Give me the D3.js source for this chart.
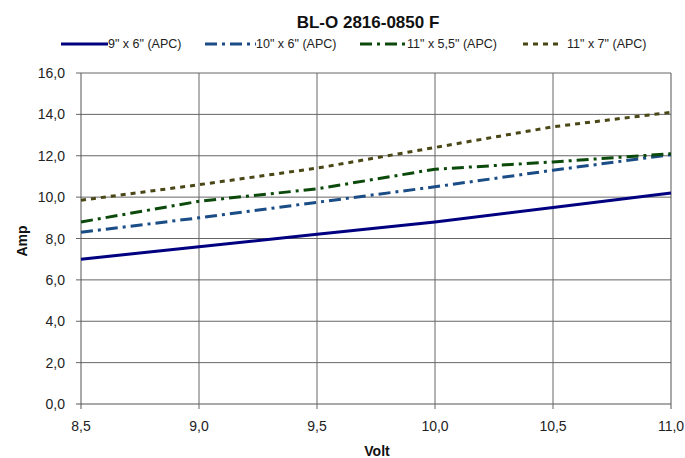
<!DOCTYPE html>
<html>
<head>
<meta charset="utf-8">
<script src="https://cdn.jsdelivr.net/npm/d3@7"></script>
<style>
  body { margin: 0; background: white; }
  text { font-family: "Liberation Sans", Arial, sans-serif; }
</style>
</head>
<body>
<div id="container"></div>
<script>
let w = 685;
let h = 458;

// data
let volts = [8.5, 9.0, 9.5, 10.0, 10.5, 11.0];
let seriesNames = ['9" x 6" (APC)', '10" x 6" (APC)', '11" x 5,5" (APC)', '11" x 7" (APC)'];
let amp9x6 = [7.0, 7.6, 8.2, 8.8, 9.5, 10.2];
let amp10x6 = [8.3, 9.0, 9.75, 10.5, 11.3, 12.05];
let amp11x55 = [8.8, 9.8, 10.4, 11.35, 11.7, 12.1];
let amp11x7 = [9.85, 10.6, 11.4, 12.4, 13.4, 14.1];
let xTicks = [8.5, 9.0, 9.5, 10.0, 10.5, 11.0];
let yTicks = [0, 2, 4, 6, 8, 10, 12, 14, 16];

let allSeries = [amp9x6, amp10x6, amp11x55, amp11x7];
let colors = ["#000080", "#1A4C86", "#0B4A0B", "#4A4716"];
let dashes = [null, "12,5,3,5", "12,5,3,5", "5,5"];
let legendX = [61, 205, 360, 523];
let legendLen = [47, 51, 47, 39];

let plotLeft = 81, plotRight = 671, plotTop = 73, plotBottom = 404;

let x = d3.scaleLinear().domain([8.5, 11.0]).range([plotLeft, plotRight]);
let y = d3.scaleLinear().domain([0, 16]).range([plotBottom, plotTop]);

let fmt = function(d){ return d3.format(".1f")(d).replace(".", ","); };

let viz = d3.select("#container")
  .append("svg")
    .attr("width", w)
    .attr("height", h)
    .style("background-color", "white")
;

// grid
viz.append("g")
  .selectAll("line")
  .data(yTicks)
  .enter()
  .append("line")
    .attr("x1", plotLeft - 5)
    .attr("x2", plotRight)
    .attr("y1", function(d){ return y(d); })
    .attr("y2", function(d){ return y(d); })
    .style("stroke", function(d){ return d == 0 ? "#555" : "#666"; })
    .style("stroke-width", 1)
;
viz.append("g")
  .selectAll("line")
  .data(xTicks)
  .enter()
  .append("line")
    .attr("x1", function(d){ return x(d); })
    .attr("x2", function(d){ return x(d); })
    .attr("y1", plotTop)
    .attr("y2", plotBottom + 5)
    .style("stroke", function(d, i){ return (i == 0 || i == xTicks.length - 1) ? "#555" : "#666"; })
    .style("stroke-width", 1)
;

// tick labels
viz.append("g")
  .selectAll("text")
  .data(yTicks)
  .enter()
  .append("text")
    .text(fmt)
    .attr("x", plotLeft - 16)
    .attr("y", function(d){ return y(d) + 5; })
    .attr("text-anchor", "end")
    .attr("font-size", 14)
    .attr("fill", "#222")
;
viz.append("g")
  .selectAll("text")
  .data(xTicks)
  .enter()
  .append("text")
    .text(fmt)
    .attr("x", function(d){ return x(d); })
    .attr("y", plotBottom + 27)
    .attr("text-anchor", "middle")
    .attr("font-size", 14)
    .attr("fill", "#222")
;

// lines
let line = d3.line()
  .x(function(d, i){ return x(volts[i]); })
  .y(function(d){ return y(d); });

viz.append("g")
  .selectAll("path")
  .data(allSeries)
  .enter()
  .append("path")
    .attr("d", line)
    .style("fill", "none")
    .style("stroke", function(d, i){ return colors[i]; })
    .style("stroke-width", 3)
    .style("stroke-dasharray", function(d, i){ return dashes[i]; })
;

// title
viz.append("text")
  .text("BL-O 2816-0850 F")
  .attr("x", 368)
  .attr("y", 28)
  .attr("text-anchor", "middle")
  .attr("font-size", 17)
  .attr("font-weight", "bold")
  .attr("fill", "#111")
;

// legend
let legend = viz.append("g").selectAll("g").data(seriesNames).enter().append("g");
legend.append("line")
  .attr("x1", function(d, i){ return legendX[i]; })
  .attr("x2", function(d, i){ return legendX[i] + legendLen[i]; })
  .attr("y1", 44)
  .attr("y2", 44)
  .style("stroke", function(d, i){ return colors[i]; })
  .style("stroke-width", 3)
  .style("stroke-dasharray", function(d, i){ return dashes[i]; })
;
legend.append("text")
  .text(function(d){ return d; })
  .attr("x", function(d, i){ return legendX[i] + legendLen[i] + (i == 3 ? 5 : 0); })
  .attr("y", 48)
  .attr("font-size", 12.5)
  .attr("fill", "#222")
;

// axis titles
viz.append("text")
  .text("Volt")
  .attr("x", 377)
  .attr("y", 456)
  .attr("text-anchor", "middle")
  .attr("font-size", 14)
  .attr("font-weight", "bold")
  .attr("fill", "#111")
;
viz.append("text")
  .text("Amp")
  .attr("transform", "translate(27,241) rotate(-90)")
  .attr("text-anchor", "middle")
  .attr("font-size", 14)
  .attr("font-weight", "bold")
  .attr("fill", "#111")
;
</script>
</body>
</html>
